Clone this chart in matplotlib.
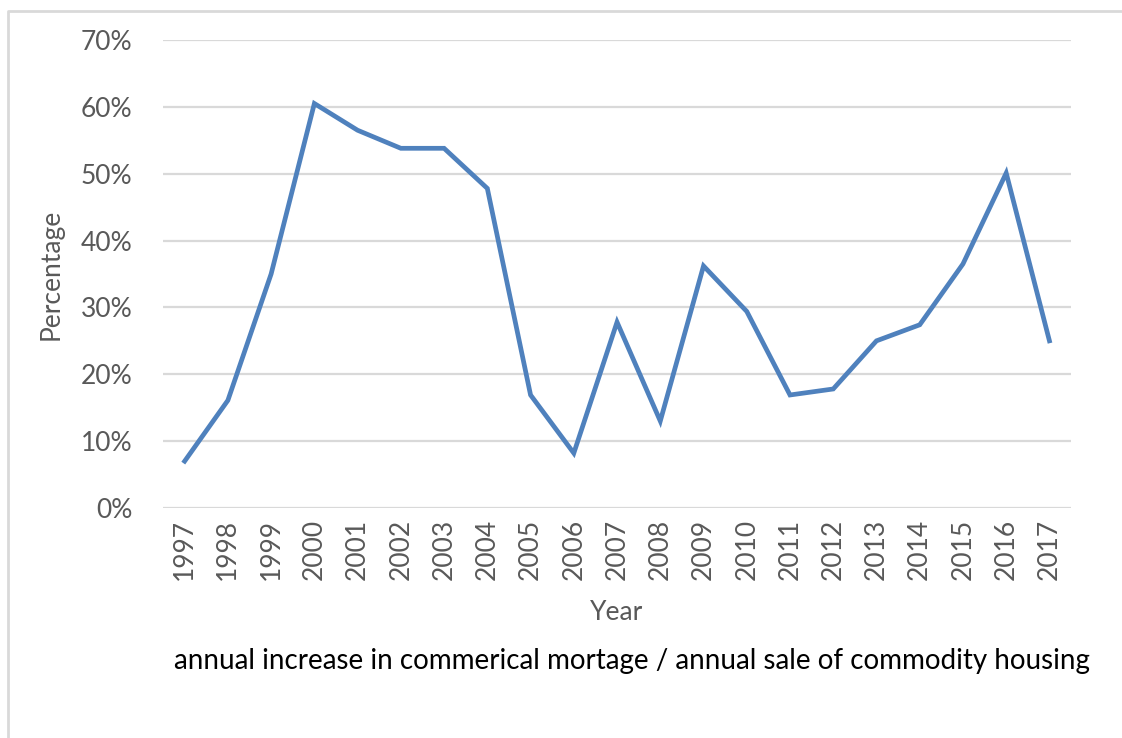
import matplotlib.pyplot as plt
from matplotlib.lines import Line2D
from matplotlib.ticker import PercentFormatter

# data
years = ["1997", "1998", "1999", "2000", "2001", "2002", "2003", "2004", "2005", "2006",
         "2007", "2008", "2009", "2010", "2011", "2012", "2013", "2014", "2015", "2016", "2017"]
ratio = [7.0, 16.1, 35.0, 60.5, 56.5, 53.8, 53.8, 47.8, 16.9, 8.2,
         27.8, 13.0, 36.2, 29.4, 16.9, 17.8, 25.0, 27.4, 36.5, 50.1, 25.0]
y_ticks = [0, 10, 20, 30, 40, 50, 60, 70]

plt.rcParams['font.family'] = ['Lato', 'DejaVu Sans']

fig = plt.figure(figsize=(11.22, 7.38), dpi=100)
ax = fig.add_axes([0.1453, 0.3117, 0.8093, 0.6341])

ax.plot(range(len(years)), ratio, color="#4f81bd", lw=3.4, solid_joinstyle="miter")

ax.set_xlim(-0.5, len(years) - 0.5)
ax.set_ylim(0, 70)
ax.set_yticks(y_ticks)
ax.yaxis.set_major_formatter(PercentFormatter(decimals=0))
ax.set_xticks(range(len(years)))
ax.set_xticklabels(years, rotation=90)
ax.grid(axis="y", color="#d9d9d9", lw=1.6)
ax.set_axisbelow(True)
for s in ax.spines.values():
    s.set_visible(False)
ax.tick_params(length=0, labelsize=19, labelcolor="#595959")
ax.tick_params(axis="y", pad=22)
ax.tick_params(axis="x", pad=8)

ax.set_ylabel("Percentage", fontsize=19, color="#595959", labelpad=12)
ax.set_xlabel("Year", fontsize=19, color="#595959", labelpad=14)

fig.text(0.1555, 0.105, "annual increase in commerical mortage / annual sale of commodity housing",
         fontsize=20, color="black", ha="left", va="center")

# chart border: only the left and top sides show in the image
x0 = 8 / 1122
y0 = 1 - 11 / 738
fig.lines.append(Line2D([x0, x0, 1.0], [0.0, y0, y0], transform=fig.transFigure,
                        color="#d9d9d9", lw=2))

fig.savefig("out.png", dpi=100)
